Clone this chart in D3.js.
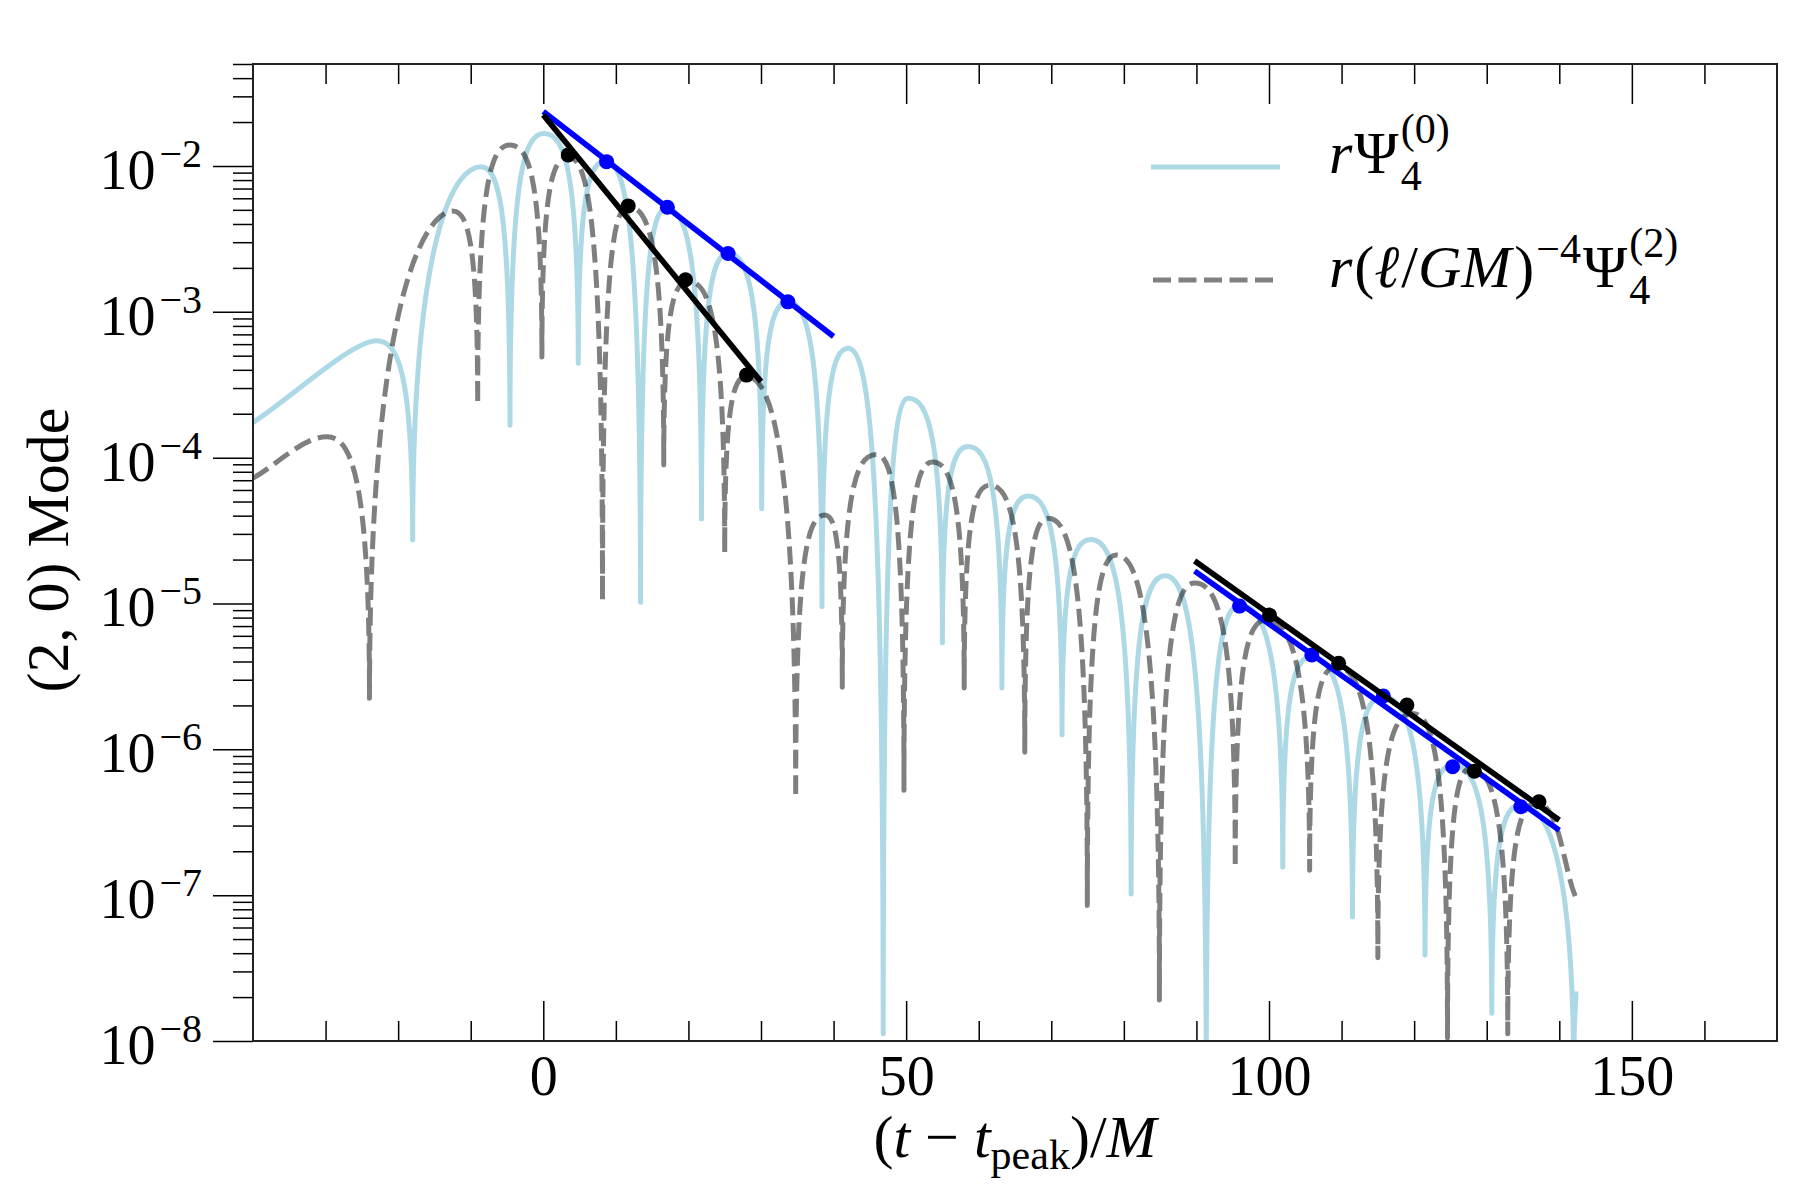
<!DOCTYPE html>
<html>
<head>
<meta charset="utf-8">
<script src="https://cdn.jsdelivr.net/npm/d3@7"></script>
<style>
  body { margin: 0; background: #fff; }
  svg { display: block; }
  text { font-family: "Liberation Serif", "DejaVu Serif", serif; fill: #000; }
</style>
</head>
<body>
<svg id="chart" width="1800" height="1200"></svg>
<script>
// ---- data (t in M, value = |mode|) ---------------------------------------
// peaks and dips of each waveform, in time order
const psi0T = [-40, -23.0, -18.0, -8.58, -4.59, 0.09, 4.82, 8.6, 13.4, 16.98, 21.8, 25.46,
  30.1, 33.7, 38.4, 42.0, 46.84, 50.28, 55.0, 58.54, 63.2, 66.8, 71.48, 75.43, 81.0, 85.7,
  91.35, 95.94, 101.9, 105.8, 111.5, 115.66, 121.5, 125.3, 130.7, 134.7, 142.0, 142.3];
const psi0V = [1.74e-4, 6.34e-4, 2.72e-5, 9.89e-3, 1.67e-4, 1.67e-2, 4.44e-4, 1.08e-2, 1.02e-5,
  5.13e-3, 3.80e-5, 2.51e-3, 4.47e-5, 1.17e-3, 9.55e-6, 5.62e-4, 1.12e-8, 2.55e-4, 5.37e-6,
  1.19e-4, 2.63e-6, 5.46e-5, 1.26e-6, 2.75e-5, 1.02e-7, 1.55e-5, 5e-9, 9.77e-6, 1.56e-7,
  4.31e-6, 7.08e-8, 2.29e-6, 3.89e-8, 7.80e-7, 1.55e-8, 4.17e-7, 5e-9, 2.19e-8];

const psi2T = [-40, -29.8, -23.95, -12.48, -9.04, -4.59, -0.19, 3.44, 8.16, 11.7, 16.6, 19.96,
  25.0, 27.98, 34.78, 38.8, 41.2, 45.9, 49.7, 53.6, 58.0, 61.5, 66.35, 69.55, 74.97, 78.96,
  84.9, 89.75, 95.35, 99.6, 105.6, 109.25, 115.0, 119.8, 124.6, 127.8, 132.9, 136.8, 142.3];
const psi2V = [7.24e-5, 1.39e-4, 2.24e-6, 4.90e-3, 2.34e-4, 1.39e-2, 4.90e-4, 1.15e-2, 1.05e-5,
  5.25e-3, 8.91e-5, 1.62e-3, 2.24e-5, 3.59e-4, 4.68e-7, 4.04e-5, 2.66e-6, 1.05e-4, 5.25e-7,
  9.33e-5, 2.63e-6, 6.46e-5, 9.55e-7, 3.84e-5, 8.51e-8, 2.15e-5, 1.91e-8, 1.38e-5, 1.55e-7,
  7.69e-6, 1.48e-7, 3.68e-6, 3.72e-8, 1.76e-6, 1.05e-8, 7.41e-7, 1.12e-8, 4.27e-7, 9.55e-8];

// exponential fits (end points) and the fitted peaks
const earlyBlueT = [0, 40],      earlyBlueV = [2.36e-2, 6.76e-4];
const earlyBlackT = [0, 30],     earlyBlackV = [2.24e-2, 3.32e-4];
const lateBlueT = [89.75, 140],  lateBlueV = [1.67e-5, 2.79e-7];
const lateBlackT = [89.75, 140], lateBlackV = [1.96e-5, 3.27e-7];

const blueDotT = [8.72, 17.1, 25.46, 33.7, 95.94, 105.9, 115.75, 125.3, 134.7];
const blueDotV = [1.07e-2, 5.21e-3, 2.51e-3, 1.17e-3, 9.59e-6, 4.43e-6, 2.32e-6, 7.59e-7, 4.04e-7];
const blackDotT = [3.44, 11.7, 19.6, 28.0, 100.07, 109.6, 119.0, 128.3, 137.2];
const blackDotV = [1.19e-2, 5.32e-3, 1.66e-3, 3.68e-4, 8.32e-6, 3.89e-6, 2.01e-6, 7.08e-7, 4.37e-7];

// axes
const xDomain = [-40, 170];
const yDomain = [1e-8, 5e-2];
const xMajor = [0, 50, 100, 150];
const xMinor = [-30, -20, -10, 10, 20, 30, 40, 60, 70, 80, 90, 110, 120, 130, 140, 160];
const yMajorExp = [-8, -7, -6, -5, -4, -3, -2];

// ---- layout ---------------------------------------------------------------
const L = 253, R = 1777, T = 64, B = 1041;
const FS_TICK = 56, FS_SUP = 40, FS_LAB = 60;
const LW_WAVE = 5, LW_FIT = 5.6, DOT_R = 7.5, DASH = "18 7.5";
const LOBE_DIP = 0.85, LOBE_PEAK = 0.6, PEAK_MAX = 24;   // |sin|-like lobes on log axis

const svg = d3.select("#chart");
const x = d3.scaleLinear(xDomain, [L, R]);
const y = d3.scaleLog(yDomain, [B, T]);

svg.append("rect").attr("width", 1800).attr("height", 1200).attr("fill", "#fff");
svg.append("clipPath").attr("id", "plot").append("rect")
  .attr("x", L).attr("y", T).attr("width", R - L).attr("height", B - T);

// lobe curve: vertical tangent in dips, flat at peaks, straight-ish at ends
function ctrl(kind, px, py, ox, oy) {
  if (kind === "d") return [px, py + LOBE_DIP * (oy - py)];
  if (kind === "p") {
    const h = Math.min(Math.abs(ox - px) * LOBE_PEAK, PEAK_MAX);
    return [px + Math.sign(ox - px) * h, py];
  }
  return [px + (ox - px) / 3, py + (oy - py) / 3];
}
function lobeCurve(context) {
  let pts;
  return {
    areaStart() {}, areaEnd() {},
    lineStart() { pts = []; },
    point(px, py) { pts.push([+px, +py]); },
    lineEnd() {
      const n = pts.length;
      const kind = pts.map((p, i) => {
        if (i === 0 || i === n - 1) return "e";
        return (p[1] < pts[i - 1][1] && p[1] < pts[i + 1][1]) ? "p" : "d";
      });
      context.moveTo(pts[0][0], pts[0][1]);
      for (let i = 1; i < n; i++) {
        const [x0, y0] = pts[i - 1], [x1, y1] = pts[i];
        const c0 = ctrl(kind[i - 1], x0, y0, x1, y1);
        const c1 = ctrl(kind[i], x1, y1, x0, y0);
        context.bezierCurveTo(c0[0], c0[1], c1[0], c1[1], x1, y1);
      }
    }
  };
}

const zip = (ts, vs) => ts.map((t, i) => [t, vs[i]]);
const wave = d3.line().x(d => x(d[0])).y(d => y(d[1])).curve(lobeCurve);
const straight = d3.line().x(d => x(d[0])).y(d => y(d[1]));

const plot = svg.append("g").attr("clip-path", "url(#plot)");

plot.append("path").attr("d", wave(zip(psi0T, psi0V)))
  .attr("fill", "none").attr("stroke", "#add8e6").attr("stroke-width", LW_WAVE)
  .attr("stroke-linejoin", "round");
plot.append("path").attr("d", wave(zip(psi2T, psi2V)))
  .attr("fill", "none").attr("stroke", "#000").attr("stroke-opacity", 0.5)
  .attr("stroke-width", LW_WAVE).attr("stroke-dasharray", DASH)
  .attr("stroke-linejoin", "round");

function fit(ts, vs, color) {
  plot.append("path").attr("d", straight(zip(ts, vs)))
    .attr("fill", "none").attr("stroke", color).attr("stroke-width", LW_FIT);
}
function dots(ts, vs, color) {
  plot.append("g").selectAll("circle").data(zip(ts, vs)).join("circle")
    .attr("cx", d => x(d[0])).attr("cy", d => y(d[1])).attr("r", DOT_R).attr("fill", color);
}
dots(blueDotT, blueDotV, "#0000ff");
fit(earlyBlueT, earlyBlueV, "#0000ff");
fit(lateBlueT, lateBlueV, "#0000ff");
dots(blackDotT, blackDotV, "#000");
fit(earlyBlackT, earlyBlackV, "#000");
fit(lateBlackT, lateBlackV, "#000");

// ---- axes -----------------------------------------------------------------
function styleAxis(g) {
  g.attr("font-family", null).attr("font-size", null);
  g.select(".domain").remove();
  g.selectAll("line").attr("stroke", "#000").attr("stroke-width", 1.5);
  return g;
}
const xb = svg.append("g").attr("transform", `translate(0,${B})`)
  .call(d3.axisBottom(x).tickValues(xMajor).tickSizeInner(-40).tickSizeOuter(0)
    .tickPadding(14).tickFormat(d3.format("d")));
styleAxis(xb).selectAll("text").attr("font-size", FS_TICK);
styleAxis(svg.append("g").attr("transform", `translate(0,${B})`)
  .call(d3.axisBottom(x).tickValues(xMinor).tickSizeInner(-20).tickSizeOuter(0).tickFormat("")));
styleAxis(svg.append("g").attr("transform", `translate(0,${T})`)
  .call(d3.axisTop(x).tickValues(xMajor).tickSizeInner(-40).tickSizeOuter(0).tickFormat("")));
styleAxis(svg.append("g").attr("transform", `translate(0,${T})`)
  .call(d3.axisTop(x).tickValues(xMinor).tickSizeInner(-20).tickSizeOuter(0).tickFormat("")));

const yMajor = yMajorExp.map(e => Math.pow(10, e));
const yMinor = [];
yMajorExp.forEach(e => d3.range(2, 10).forEach(m => {
  const v = m * Math.pow(10, e);
  if (v <= yDomain[1]) yMinor.push(v);
}));
styleAxis(svg.append("g").attr("transform", `translate(${L},0)`)
  .call(d3.axisLeft(y).tickValues(yMajor).tickSizeInner(40).tickSizeOuter(0).tickFormat("")));
styleAxis(svg.append("g").attr("transform", `translate(${L},0)`)
  .call(d3.axisLeft(y).tickValues(yMinor).tickSizeInner(20).tickSizeOuter(0).tickFormat("")));

svg.append("g").selectAll("text").data(yMajorExp).join("text")
  .attr("x", 202).attr("y", d => y(Math.pow(10, d)) + 23).attr("text-anchor", "end")
  .each(function (d) {
    const t = d3.select(this);
    t.append("tspan").attr("font-size", FS_TICK).text("10");
    t.append("tspan").attr("font-size", FS_SUP).attr("dx", 4).attr("dy", -22).text("\u2212" + (-d));
  });

svg.append("rect").attr("x", L).attr("y", T).attr("width", R - L).attr("height", B - T)
  .attr("fill", "none").attr("stroke", "#222").attr("stroke-width", 2);

// ---- axis labels ------------------------------------------------------------
const xl = svg.append("text").attr("x", (L + R) / 2).attr("y", 1157)
  .attr("text-anchor", "middle").attr("font-size", FS_LAB);
xl.append("tspan").text("(");
xl.append("tspan").attr("font-style", "italic").text("t");
xl.append("tspan").text(" \u2212 ");
xl.append("tspan").attr("font-style", "italic").text("t");
xl.append("tspan").attr("font-size", 42).attr("dy", 12).text("peak");
xl.append("tspan").attr("dy", -12).text(")/");
xl.append("tspan").attr("font-style", "italic").text("M");

svg.append("text").attr("transform", "translate(68,550) rotate(-90)")
  .attr("text-anchor", "middle").attr("font-size", FS_LAB).text("(2, 0) Mode");

// ---- legend -------------------------------------------------------------------
function mathLabel(x0, base, parts) {
  let cx = x0;
  const g = svg.append("g");
  parts.forEach(p => {
    if (p.sup !== undefined || p.sub !== undefined) {
      let w = 0;
      if (p.sup) {
        const s = g.append("text").attr("x", cx + 2).attr("y", base - p.supDy)
          .attr("font-size", 42).text(p.sup);
        w = Math.max(w, s.node().getComputedTextLength());
      }
      if (p.sub) {
        const s = g.append("text").attr("x", cx + 2).attr("y", base + 17)
          .attr("font-size", 42).text(p.sub);
        w = Math.max(w, s.node().getComputedTextLength());
      }
      cx += w + 4;
    } else {
      const s = g.append("text").attr("x", cx).attr("y", base).attr("font-size", FS_LAB)
        .attr("font-style", p.it ? "italic" : null).text(p.t);
      cx += s.node().getComputedTextLength() + (p.gap || 0);
    }
  });
}

svg.append("line").attr("x1", 1151).attr("x2", 1280).attr("y1", 167).attr("y2", 167)
  .attr("stroke", "#add8e6").attr("stroke-width", LW_WAVE);
svg.append("line").attr("x1", 1153).attr("x2", 1278).attr("y1", 280).attr("y2", 280)
  .attr("stroke", "#000").attr("stroke-opacity", 0.5).attr("stroke-width", LW_WAVE)
  .attr("stroke-dasharray", DASH);

mathLabel(1329, 173, [
  { t: "r", it: true, gap: 2 }, { t: "\u03A8" }, { sup: "(0)", sub: "4", supDy: 30 }
]);
mathLabel(1329, 287, [
  { t: "r", it: true, gap: 2 }, { t: "(" }, { t: "\u2113", it: true, gap: 2 }, { t: "/" },
  { t: "GM", it: true, gap: 3 }, { t: ")" }, { sup: "\u22124", supDy: 24 },
  { t: "\u03A8" }, { sup: "(2)", sub: "4", supDy: 30 }
]);
</script>
</body>
</html>
